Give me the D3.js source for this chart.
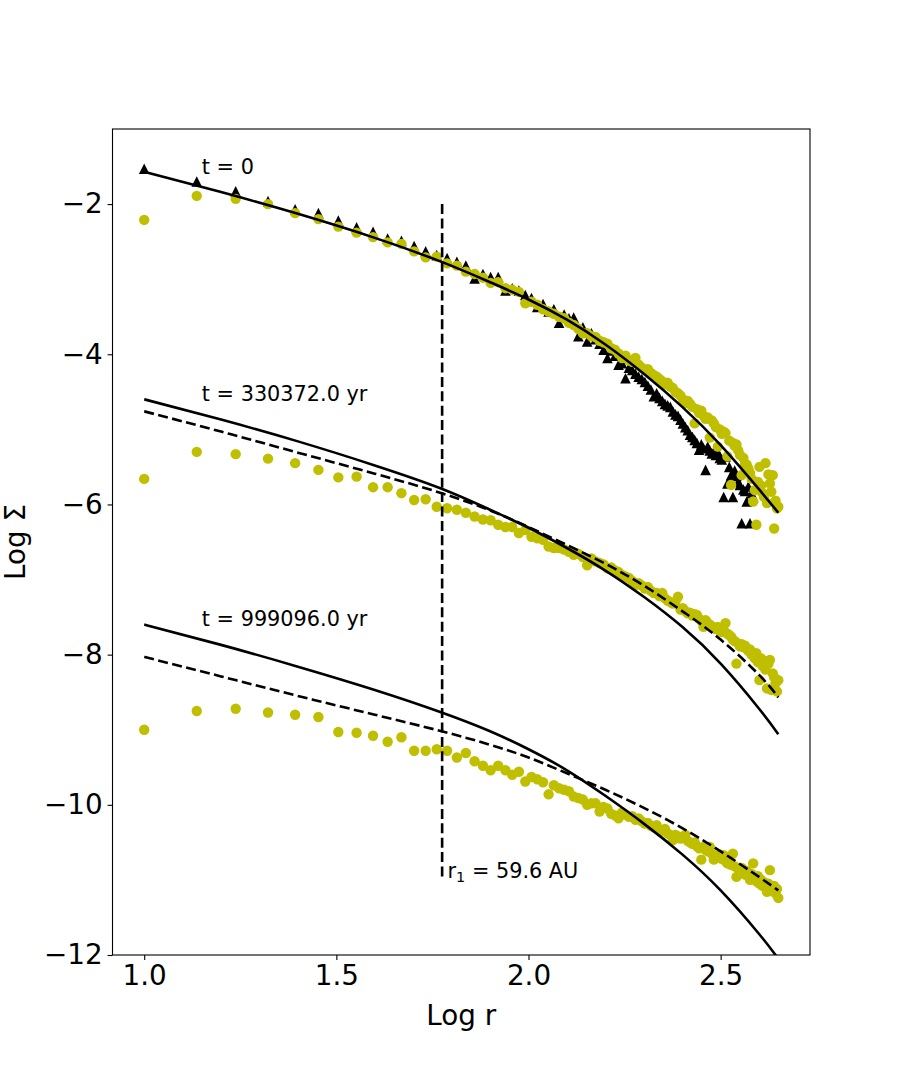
<!DOCTYPE html>
<html>
<head>
<meta charset="utf-8">
<script src="https://cdn.jsdelivr.net/npm/d3@7"></script>
<style>
  body { margin: 0; background: #fff; }
  text { font-family: "DejaVu Sans", sans-serif; fill: #000; }
</style>
</head>
<body>
<div id="chart"></div>
<script>
// radial bins (AU)
const radiusAU = [
  10.0, 13.7, 17.3, 21.0, 24.7, 28.4, 32.0, 35.7, 39.4, 43.0,
  46.7, 50.4, 54.0, 57.7, 61.4, 65.1, 68.7, 72.4, 76.1, 79.7,
  83.4, 87.1, 90.7, 94.4, 98.1, 101.8, 105.4, 109.1, 112.8, 116.4,
  120.1, 123.8, 127.4, 131.1, 134.8, 138.5, 142.1, 145.8, 149.5, 153.1,
  156.8, 160.5, 164.1, 167.8, 171.5, 175.2, 178.8, 182.5, 186.2, 189.8,
  193.5, 197.2, 200.8, 204.5, 208.2, 211.9, 215.5, 219.2, 222.9, 226.5,
  230.2, 233.9, 237.5, 241.2, 244.9, 248.6, 252.2, 255.9, 259.6, 263.2,
  266.9, 270.6, 274.2, 277.9, 281.6, 285.3, 288.9, 292.6, 296.3, 299.9,
  303.6, 307.3, 310.9, 314.6, 318.3, 322.0, 325.6, 329.3, 333.0, 336.6,
  340.3, 344.0, 347.6, 351.3, 355.0, 358.7, 362.3, 366.0, 369.7, 373.3,
  377.0, 380.7, 384.3, 388.0, 391.7, 395.4, 399.0, 402.7, 406.4, 410.0,
  413.7, 417.4, 421.0, 424.7, 428.4, 432.1, 435.7, 439.4, 443.1, 446.7
];

// log Sigma, initial setup (triangles)
const sigmaInitial = [
  -1.53, -1.70, -1.83, -1.96, -2.07, -2.12, -2.22, -2.31, -2.37, -2.46,
  -2.49, -2.56, -2.63, -2.68, -2.72, -2.77, -2.82, -2.99, -2.93, -2.97,
  -2.97, -3.15, -3.12, -3.15, -3.21, -3.25, -3.37, -3.33, -3.43, -3.40,
  -3.58, -3.47, -3.52, -3.51, -3.76, -3.64, -3.83, -3.72, -3.80, -3.86,
  -3.94, -4.05, -3.95, -4.02, -4.14, -4.12, -4.32, -4.18, -4.21, -4.26,
  -4.30, -4.33, -4.37, -4.42, -4.47, -4.56, -4.52, -4.58, -4.62, -4.66,
  -4.68, -4.70, -4.76, -4.80, -4.82, -4.87, -4.92, -4.97, -5.01, -5.07,
  -5.10, -5.14, -5.18, -5.27, -5.20, -5.25, -5.54, -5.23, -5.28, -5.32,
  -5.30, -5.34, -5.30, -5.38, -5.40, -5.90, -5.36, -5.72, -5.50, -5.61,
  -5.90, -5.55, -5.62, -5.70, -5.74, -6.25, -5.80, -5.82, -5.96, -5.76,
  -6.25, -5.85, -5.90
];

// log Sigma, simulation snapshots (yellow dots)
const sigmaT0 = [
  -2.21, -1.89, -1.93, -2.00, -2.12, -2.20, -2.30, -2.38, -2.44, -2.51,
  -2.53, -2.63, -2.71, -2.70, -2.79, -2.82, -2.90, -2.93, -2.98, -3.05,
  -3.04, -3.12, -3.14, -3.17, -3.32, -3.30, -3.34, -3.40, -3.43, -3.46,
  -3.50, -3.52, -3.58, -3.61, -3.66, -3.72, -3.72, -3.76, -3.77, -3.82,
  -3.84, -3.86, -3.92, -3.94, -3.99, -4.05, -4.02, -4.08, -4.10, -4.05,
  -4.14, -4.18, -4.21, -4.20, -4.25, -4.28, -4.30, -4.33, -4.36, -4.40,
  -4.38, -4.43, -4.45, -4.50, -4.52, -4.55, -4.60, -4.65, -4.62, -4.66,
  -4.70, -4.92, -4.73, -4.78, -4.75, -4.82, -4.86, -4.84, -5.11, -4.88,
  -4.92, -4.97, -5.23, -5.00, -5.06, -5.03, -5.05, -5.36, -5.15, -5.74,
  -5.18, -5.22, -5.20, -5.28, -5.34, -5.61, -5.38, -5.46, -5.47, -5.52,
  -5.58, -5.66, -5.96, -5.81, -6.27, -5.70, -5.50, -5.75, -5.85, -5.90,
  -5.45, -5.98, -5.60, -5.72, -5.83, -5.61, -6.32, -5.95, -6.05, -6.03
];

const sigmaT1 = [
  -5.66, -5.30, -5.33, -5.39, -5.45, -5.54, -5.64, -5.63, -5.77, -5.77,
  -5.85, -5.94, -5.93, -6.03, -6.05, -6.07, -6.11, -6.16, -6.20, -6.21,
  -6.27, -6.30, -6.30, -6.38, -6.34, -6.43, -6.45, -6.47, -6.56, -6.58,
  -6.58, -6.60, -6.63, -6.67, -6.66, -6.70, -6.81, -6.72, -6.76, -6.78,
  -6.80, -6.85, -6.84, -6.88, -6.90, -6.94, -6.96, -6.98, -7.02, -7.07,
  -7.05, -7.08, -7.12, -7.10, -7.15, -7.18, -7.18, -7.22, -7.18, -7.25,
  -7.28, -7.30, -7.32, -7.30, -7.23, -7.40, -7.38, -7.42, -7.45, -7.44,
  -7.48, -7.46, -7.47, -7.52, -7.55, -7.63, -7.54, -7.58, -7.60, -7.62,
  -7.64, -7.66, -7.63, -7.68, -7.70, -7.67, -7.58, -7.72, -7.74, -7.76,
  -7.80, -7.82, -8.12, -7.85, -7.89, -7.86, -7.90, -7.88, -7.92, -7.95,
  -7.93, -8.00, -7.98, -8.05, -7.98, -8.10, -8.34, -8.05, -8.15, -8.08,
  -8.20, -8.45, -8.12, -8.07, -8.47, -8.25, -8.30, -8.38, -8.49, -8.34
];

const sigmaT2 = [
  -9.00, -8.75, -8.72, -8.77, -8.80, -8.83, -9.03, -9.04, -9.08, -9.16,
  -9.10, -9.28, -9.28, -9.26, -9.28, -9.37, -9.31, -9.42, -9.48, -9.54,
  -9.48, -9.54, -9.60, -9.56, -9.69, -9.63, -9.66, -9.70, -9.86, -9.74,
  -9.78, -9.80, -9.82, -9.89, -9.91, -9.93, -10.00, -9.98, -9.98, -10.09,
  -10.03, -10.05, -10.12, -10.14, -10.18, -10.10, -10.13, -10.16, -10.15, -10.20,
  -10.18, -10.22, -10.25, -10.24, -10.28, -10.30, -10.27, -10.33, -10.35, -10.32,
  -10.38, -10.40, -10.47, -10.40, -10.42, -10.45, -10.44, -10.40, -10.48, -10.50,
  -10.52, -10.50, -10.55, -10.58, -10.73, -10.56, -10.60, -10.62, -10.56, -10.65,
  -10.73, -10.68, -10.70, -10.66, -10.72, -10.67, -10.75, -10.78, -10.72, -10.80,
  -10.65, -10.82, -10.96, -10.85, -10.88, -10.84, -10.90, -10.93, -10.88, -10.95,
  -11.00, -10.92, -10.78, -10.97, -11.02, -10.95, -11.05, -11.00, -11.08, -11.03,
  -11.10, -11.16, -11.05, -10.87, -11.12, -11.15, -11.08, -11.18, -11.12, -11.24
];

// analytic curves (log r grid and log Sigma)
const curveLogR = [1.0, 1.2, 1.4, 1.6, 1.774, 1.9, 2.0, 2.1, 2.2, 2.3, 2.4, 2.5, 2.6, 2.65];
const modelT0 = [-1.57, -1.84, -2.13, -2.45, -2.77, -3.04, -3.27, -3.54, -3.87, -4.26, -4.70, -5.21, -5.80, -6.11];
const modelT1 = [-4.60, -4.87, -5.16, -5.48, -5.79, -6.07, -6.31, -6.58, -6.88, -7.23, -7.63, -8.12, -8.72, -9.06];
const fitT1   = [-4.76, -5.03, -5.31, -5.59, -5.85, -6.08, -6.30, -6.54, -6.79, -7.08, -7.42, -7.80, -8.27, -8.57];
const modelT2 = [-7.60, -7.87, -8.16, -8.47, -8.77, -9.02, -9.26, -9.54, -9.88, -10.25, -10.66, -11.14, -11.72, -12.05];
const fitT2   = [-8.03, -8.29, -8.55, -8.80, -9.02, -9.20, -9.37, -9.58, -9.80, -10.04, -10.31, -10.62, -10.96, -11.14];

const r1AU = 59.6;
const r1Range = [-2, -11];

const notes = [
  {text: "t = 0", x: 1.15, y: -1.6},
  {text: "t = 330372.0 yr", x: 1.15, y: -4.62},
  {text: "t = 999096.0 yr", x: 1.15, y: -7.62}
];

const xTicks = [1.0, 1.5, 2.0, 2.5];
const yTicks = [-12, -10, -8, -6, -4, -2];

const width = 900, height = 1073;
const margin = {top: 129, right: 90, bottom: 118, left: 112.5};

const svg = d3.select("#chart").append("svg")
    .attr("width", width)
    .attr("height", height);

const x = d3.scaleLinear().domain([0.9175, 2.7325]).range([margin.left, width - margin.right]);
const y = d3.scaleLinear().domain([-12, -1]).range([height - margin.bottom, margin.top]);

svg.append("clipPath").attr("id", "plot-clip")
    .append("rect")
    .attr("x", x.range()[0]).attr("y", y.range()[1])
    .attr("width", x.range()[1] - x.range()[0])
    .attr("height", y.range()[0] - y.range()[1]);

const plot = svg.append("g").attr("clip-path", "url(#plot-clip)");

const logR = radiusAU.map(r => Math.log10(r));

// triangles
const tri = 5.3;
plot.selectAll(".tri")
    .data(sigmaInitial)
    .enter()
    .append("path")
    .attr("class", "tri")
    .attr("transform", (d, i) => "translate(" + x(logR[i]) + "," + y(d) + ")")
    .attr("d", "M0," + (-tri) + "L" + (-tri) + "," + tri + "L" + tri + "," + tri + "Z")
    .style("fill", "#000");

// yellow dots
[sigmaT0, sigmaT1, sigmaT2].forEach(function (series) {
    plot.append("g").selectAll("circle")
        .data(series)
        .enter()
        .append("circle")
        .attr("cx", (d, i) => x(logR[i]))
        .attr("cy", d => y(d))
        .attr("r", 5.2)
        .style("fill", "#bfbf00");
});

// curves
const line = d3.line()
    .x((d, i) => x(curveLogR[i]))
    .y(d => y(d))
    .curve(d3.curveNatural);

[[modelT0, false], [modelT1, false], [fitT1, true], [modelT2, false], [fitT2, true]].forEach(function (c) {
    plot.append("path")
        .datum(c[0])
        .attr("d", line)
        .style("fill", "none")
        .style("stroke", "#000")
        .style("stroke-width", 2.6)
        .style("stroke-dasharray", c[1] ? "10,4.4" : null);
});

// r1 marker
const xr1 = x(Math.log10(r1AU));
plot.append("line")
    .attr("x1", xr1).attr("x2", xr1)
    .attr("y1", y(r1Range[0])).attr("y2", y(r1Range[1]))
    .style("stroke", "#000")
    .style("stroke-width", 2.6)
    .style("stroke-dasharray", "10,4.4");

const r1Label = svg.append("text")
    .attr("x", x(Math.log10(r1AU) + 0.014))
    .attr("y", y(-10.97))
    .style("font-size", "20.8px");
r1Label.append("tspan").text("r");
r1Label.append("tspan").attr("dy", 4).style("font-size", "14.5px").text("1");
r1Label.append("tspan").attr("dy", -4).text(" = " + r1AU + " AU");

svg.selectAll(".note")
    .data(notes)
    .enter()
    .append("text")
    .attr("class", "note")
    .attr("x", d => x(d.x))
    .attr("y", d => y(d.y))
    .style("font-size", "20.8px")
    .text(d => d.text);

// axes
const xAxis = svg.append("g")
    .attr("transform", "translate(0," + y.range()[0] + ")")
    .call(d3.axisBottom(x).tickValues(xTicks).tickFormat(d3.format(".1f")).tickSizeOuter(0).tickSize(4.9).tickPadding(4.9));

const yAxis = svg.append("g")
    .attr("transform", "translate(" + x.range()[0] + ",0)")
    .call(d3.axisLeft(y).tickValues(yTicks).tickFormat(d3.format("d")).tickSizeOuter(0).tickSize(4.9).tickPadding(4.9));

[xAxis, yAxis].forEach(function (ax) {
    ax.select(".domain").remove();
    ax.selectAll(".tick line").style("stroke", "#000").style("stroke-width", 1.1);
    ax.selectAll(".tick text").style("font-size", "27.8px").style("font-family", "DejaVu Sans").style("fill", "#000");
});

svg.append("rect")
    .attr("x", x.range()[0]).attr("y", y.range()[1])
    .attr("width", x.range()[1] - x.range()[0])
    .attr("height", y.range()[0] - y.range()[1])
    .style("fill", "none")
    .style("stroke", "#000")
    .style("stroke-width", 1.1);

svg.append("text")
    .attr("x", (x.range()[0] + x.range()[1]) / 2)
    .attr("y", 1025)
    .attr("text-anchor", "middle")
    .style("font-size", "27.8px")
    .text("Log r");

svg.append("text")
    .attr("transform", "translate(25," + ((y.range()[0] + y.range()[1]) / 2) + ") rotate(-90)")
    .attr("text-anchor", "middle")
    .style("font-size", "27.8px")
    .text("Log Σ");
</script>
</body>
</html>
